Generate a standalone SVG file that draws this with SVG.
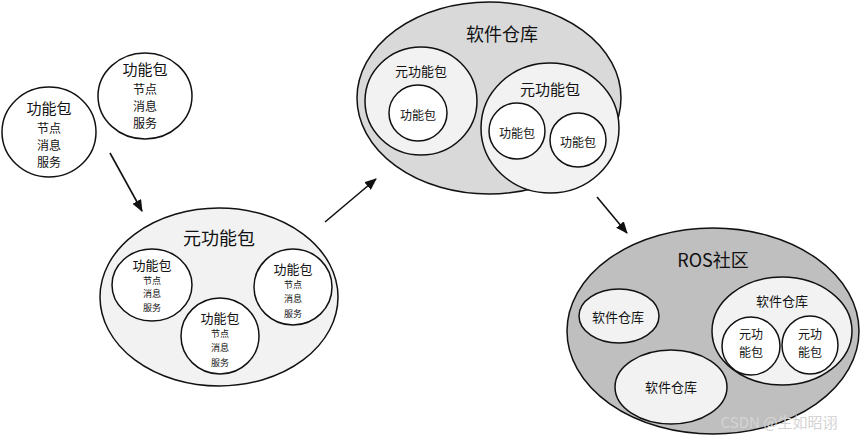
<svg xmlns="http://www.w3.org/2000/svg" width="863" height="439" viewBox="0 0 863 439">
<style>
  text { font-family: "Noto Sans CJK SC", "Noto Sans", sans-serif; fill: #111; text-anchor: middle; dominant-baseline: central; }
  .sh { stroke: #111; stroke-width: 1.5; }
  .w { fill: #ffffff; }
  .l { fill: #f2f2f2; }
  .m { fill: #d9d9d9; }
  .d { fill: #bfbfbf; }
  .t20 { font-size: 18px; }
  .t15 { font-size: 15px; }
  .t13 { font-size: 13px; }
  .t12 { font-size: 12px; }
  .t9 { font-size: 9px; }
  .conn { stroke: #111; stroke-width: 1.6; fill: none; marker-end: url(#ah); }
</style>
<defs>
  <marker id="ah" markerWidth="12" markerHeight="10" refX="11" refY="5" orient="auto" markerUnits="userSpaceOnUse">
    <path d="M0,0 L12,5 L0,10 Z" fill="#111"/>
  </marker>
</defs>
<rect width="863" height="439" fill="#ffffff"/>

<g id="pkg-a">
  <ellipse class="sh w" cx="49" cy="132" rx="47" ry="45"/>
  <text class="t15" x="49" y="107">功能包</text>
  <text class="t12" x="49" y="127">节点</text>
  <text class="t12" x="49" y="144">消息</text>
  <text class="t12" x="49" y="161">服务</text>
</g>
<g id="pkg-b">
  <ellipse class="sh w" cx="145" cy="96" rx="47" ry="43"/>
  <text class="t15" x="145" y="68">功能包</text>
  <text class="t12" x="145" y="88">节点</text>
  <text class="t12" x="145" y="105">消息</text>
  <text class="t12" x="145" y="122">服务</text>
</g>

<g id="meta-pkg">
  <ellipse class="sh l" cx="219" cy="297" rx="119" ry="89"/>
  <text class="t20" x="219" y="237">元功能包</text>
  <g id="meta-pkg-1">
    <ellipse class="sh w" cx="152" cy="285" rx="40" ry="36"/>
    <text class="t13" x="152" y="264">功能包</text>
    <text class="t9" x="152" y="280">节点</text>
    <text class="t9" x="152" y="293.5">消息</text>
    <text class="t9" x="152" y="307">服务</text>
  </g>
  <g id="meta-pkg-2">
    <ellipse class="sh w" cx="220" cy="336" rx="39" ry="38"/>
    <text class="t13" x="220" y="317">功能包</text>
    <text class="t9" x="220" y="333">节点</text>
    <text class="t9" x="220" y="347">消息</text>
    <text class="t9" x="220" y="362">服务</text>
  </g>
  <g id="meta-pkg-3">
    <ellipse class="sh w" cx="293" cy="287" rx="39" ry="38"/>
    <text class="t13" x="293" y="268">功能包</text>
    <text class="t9" x="293" y="284">节点</text>
    <text class="t9" x="293" y="298">消息</text>
    <text class="t9" x="293" y="313">服务</text>
  </g>
</g>

<g id="repo">
  <ellipse class="sh m" cx="489" cy="98" rx="132" ry="96"/>
  <text class="t20" x="502" y="33">软件仓库</text>
  <g id="repo-meta-1">
    <ellipse class="sh l" cx="421" cy="101" rx="56" ry="54"/>
    <text class="t13" x="421" y="70">元功能包</text>
    <ellipse class="sh w" cx="418" cy="113" rx="29" ry="28"/>
    <text class="t12" x="418" y="114">功能包</text>
  </g>
  <g id="repo-meta-2">
    <ellipse class="sh l" cx="550" cy="128" rx="69" ry="65"/>
    <text class="t15" x="550" y="88">元功能包</text>
    <ellipse class="sh w" cx="517" cy="131" rx="28" ry="28"/>
    <text class="t12" x="517" y="132">功能包</text>
    <ellipse class="sh w" cx="578" cy="140" rx="28" ry="27"/>
    <text class="t12" x="578" y="141">功能包</text>
  </g>
</g>

<g id="ros-community">
  <ellipse class="sh d" cx="713" cy="331" rx="146" ry="103"/>
  <text class="t20" x="713" y="259">ROS社区</text>
  <g id="ros-repo-1">
    <ellipse class="sh l" cx="619" cy="316" rx="40" ry="27"/>
    <text class="t13" x="618" y="316">软件仓库</text>
  </g>
  <g id="ros-repo-2">
    <ellipse class="sh l" cx="671" cy="387" rx="56" ry="37"/>
    <text class="t13" x="671" y="386">软件仓库</text>
  </g>
  <g id="ros-repo-3">
    <ellipse class="sh l" cx="782" cy="331" rx="70" ry="54"/>
    <text class="t13" x="782" y="300">软件仓库</text>
    <ellipse class="sh w" cx="751" cy="346" rx="29" ry="29"/>
    <text class="t12" x="751" y="333">元功</text>
    <text class="t12" x="751" y="351">能包</text>
    <ellipse class="sh w" cx="810" cy="345" rx="28" ry="29"/>
    <text class="t12" x="810" y="333">元功</text>
    <text class="t12" x="810" y="351">能包</text>
  </g>
</g>

<g id="connectors">
  <line class="conn" x1="110" y1="153" x2="142" y2="211"/>
  <line class="conn" x1="325" y1="222" x2="376" y2="179"/>
  <line class="conn" x1="597" y1="197" x2="627" y2="233"/>
</g>

<text x="779" y="421" style="font-size:15px; fill:#d4d4d4;">CSDN @生如昭诩</text>
</svg>
